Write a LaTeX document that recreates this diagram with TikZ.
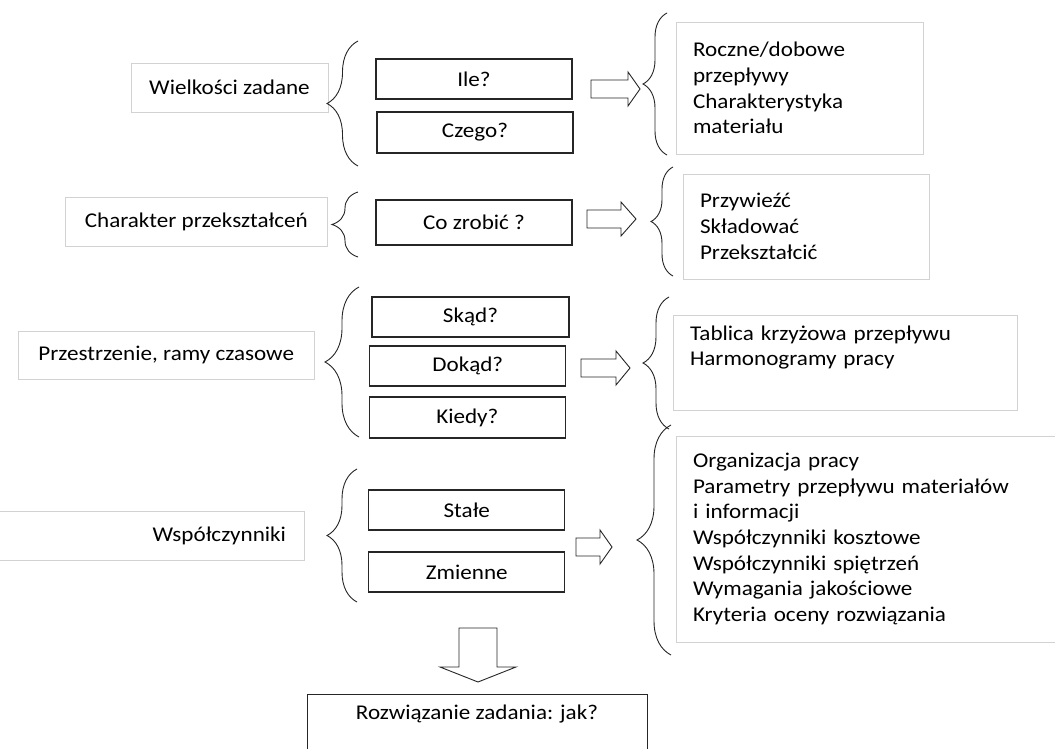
\documentclass[tikz,border=0pt]{standalone}
\usepackage{fontspec}
\setmainfont{Carlito}[FakeStretch=1.1]
\usetikzlibrary{decorations.pathreplacing}

\tikzset{
  lbox/.style={draw=gray!35, line width=0.8pt, minimum height=49pt, inner sep=0pt},
  qbox/.style={draw=black!85, line width=1.3pt, minimum height=40pt, inner sep=0pt},
  rbox/.style={draw=gray!35, line width=0.8pt, align=left, inner xsep=17pt, inner ysep=0pt},
  curly/.style={decorate, decoration={brace, amplitude=#1}, line width=0.9pt, black!85},
  barrow/.style={draw=black!85, line width=0.9pt, fill=white, line join=miter},
}

% block arrow: x, y, length, head length
\newcommand{\RArrow}[4]{%
  \draw[barrow] (#1,#2-9) -- ++(#3-#4,0) -- ++(0,-8) -- (#1+#3,#2)
     -- (#1+#3-#4,#2+17) -- ++(0,-8) -- (#1,#2+9) -- cycle;}

\begin{document}
\begin{tikzpicture}[x=1pt, y=-1pt,
    every node/.append style={font=\fontsize{21}{25.7}\selectfont}]
  \useasboundingbox (0,0) rectangle (1055,749);
  \fill[white] (0,0) rectangle (1055,749);
  \clip (0,0) rectangle (1055,749);

  % wielkosci zadane
  \node[lbox, minimum width=197pt] (wz) at (229.5,87.5) {Wielkości zadane};
  \node[qbox, minimum width=196pt] (ile) at (474,79) {Ile?};
  \node[qbox, minimum width=196pt, minimum height=41pt] (czego) at (475,132.5) {Czego?};
  \node[rbox, text width=213pt, minimum height=132pt] (r1) at (799.5,88)
       {Roczne/dobowe\\ przepływy\\ Charakterystyka\\ materiału};
  \draw[curly=31pt] (358,166) -- (358,41);
  \draw[curly=24pt] (667,155) -- (667,13);
  \RArrow{591}{89}{49}{12}

  % charakter przeksztalcen
  \node[lbox, minimum width=262pt] (chp) at (196.3,221.5) {Charakter przekształceń};
  \node[qbox, minimum width=196pt, minimum height=45pt] (co) at (474,222.5) {Co zrobić ?};
  \node[rbox, text width=212pt, minimum height=105pt] (r2) at (806,226.5)
       {Przywieźć\\ Składować\\ Przekształcić};
  \draw[curly=26pt] (358,257) -- (358,192);
  \draw[curly=22pt] (673,276) -- (673,167);
  \RArrow{587}{219}{49}{15}

  % przestrzenie
  \node[lbox, minimum width=296pt, minimum height=48pt] (prz) at (166.2,355) {Przestrzenie, ramy czasowe};
  \node[qbox, minimum width=197pt] (skad) at (470.5,317) {Skąd?};
  \node[qbox, minimum width=196pt] (dokad) at (467.8,366) {Dokąd?};
  \node[qbox, minimum width=196pt, minimum height=41pt] (kiedy) at (467.3,417.5) {Kiedy?};
  \node[rbox, text width=310pt, minimum height=95pt] (r3) at (845,362.5)
       {Tablica krzyżowa przepływu\\ Harmonogramy pracy\\ \strut};
  \draw[curly=34pt] (359,437) -- (359,287);
  \draw[curly=26pt] (669,429) -- (669,297);
  \RArrow{581}{368}{49}{14}

  % wspolczynniki
  \node[lbox, text width=272pt, align=right, inner xsep=18pt] (wsp) at (150,535.5) {Współczynniki};
  \node[qbox, minimum width=196pt] (stale) at (466.8,510) {Stałe};
  \node[qbox, minimum width=196pt] (zm) at (466.8,572) {Zmienne};
  \node[rbox, text width=350pt, minimum height=206pt] (r4) at (868,539)
       {Organizacja pracy\\ Parametry przepływu materiałów\\ i informacji\\
        Współczynniki kosztowe\\ Współczynniki spiętrzeń\\
        Wymagania jakościowe\\ Kryteria oceny rozwiązania};
  \draw[curly=30pt] (357,602) -- (357,469);
  \draw[curly=34pt] (671,655) -- (671,425);
  \RArrow{576}{547}{36}{12}

  % rozwiazanie
  \draw[barrow] (459,628) -- (497,628) -- (497,667) -- (516,667) -- (478,682)
     -- (440,667) -- (459,667) -- cycle;
  \node[qbox, line width=1pt, minimum width=340pt, minimum height=70pt, align=center] (sol)
       at (477,729) {Rozwiązanie zadania: jak?\\ \strut};
\end{tikzpicture}
\end{document}
